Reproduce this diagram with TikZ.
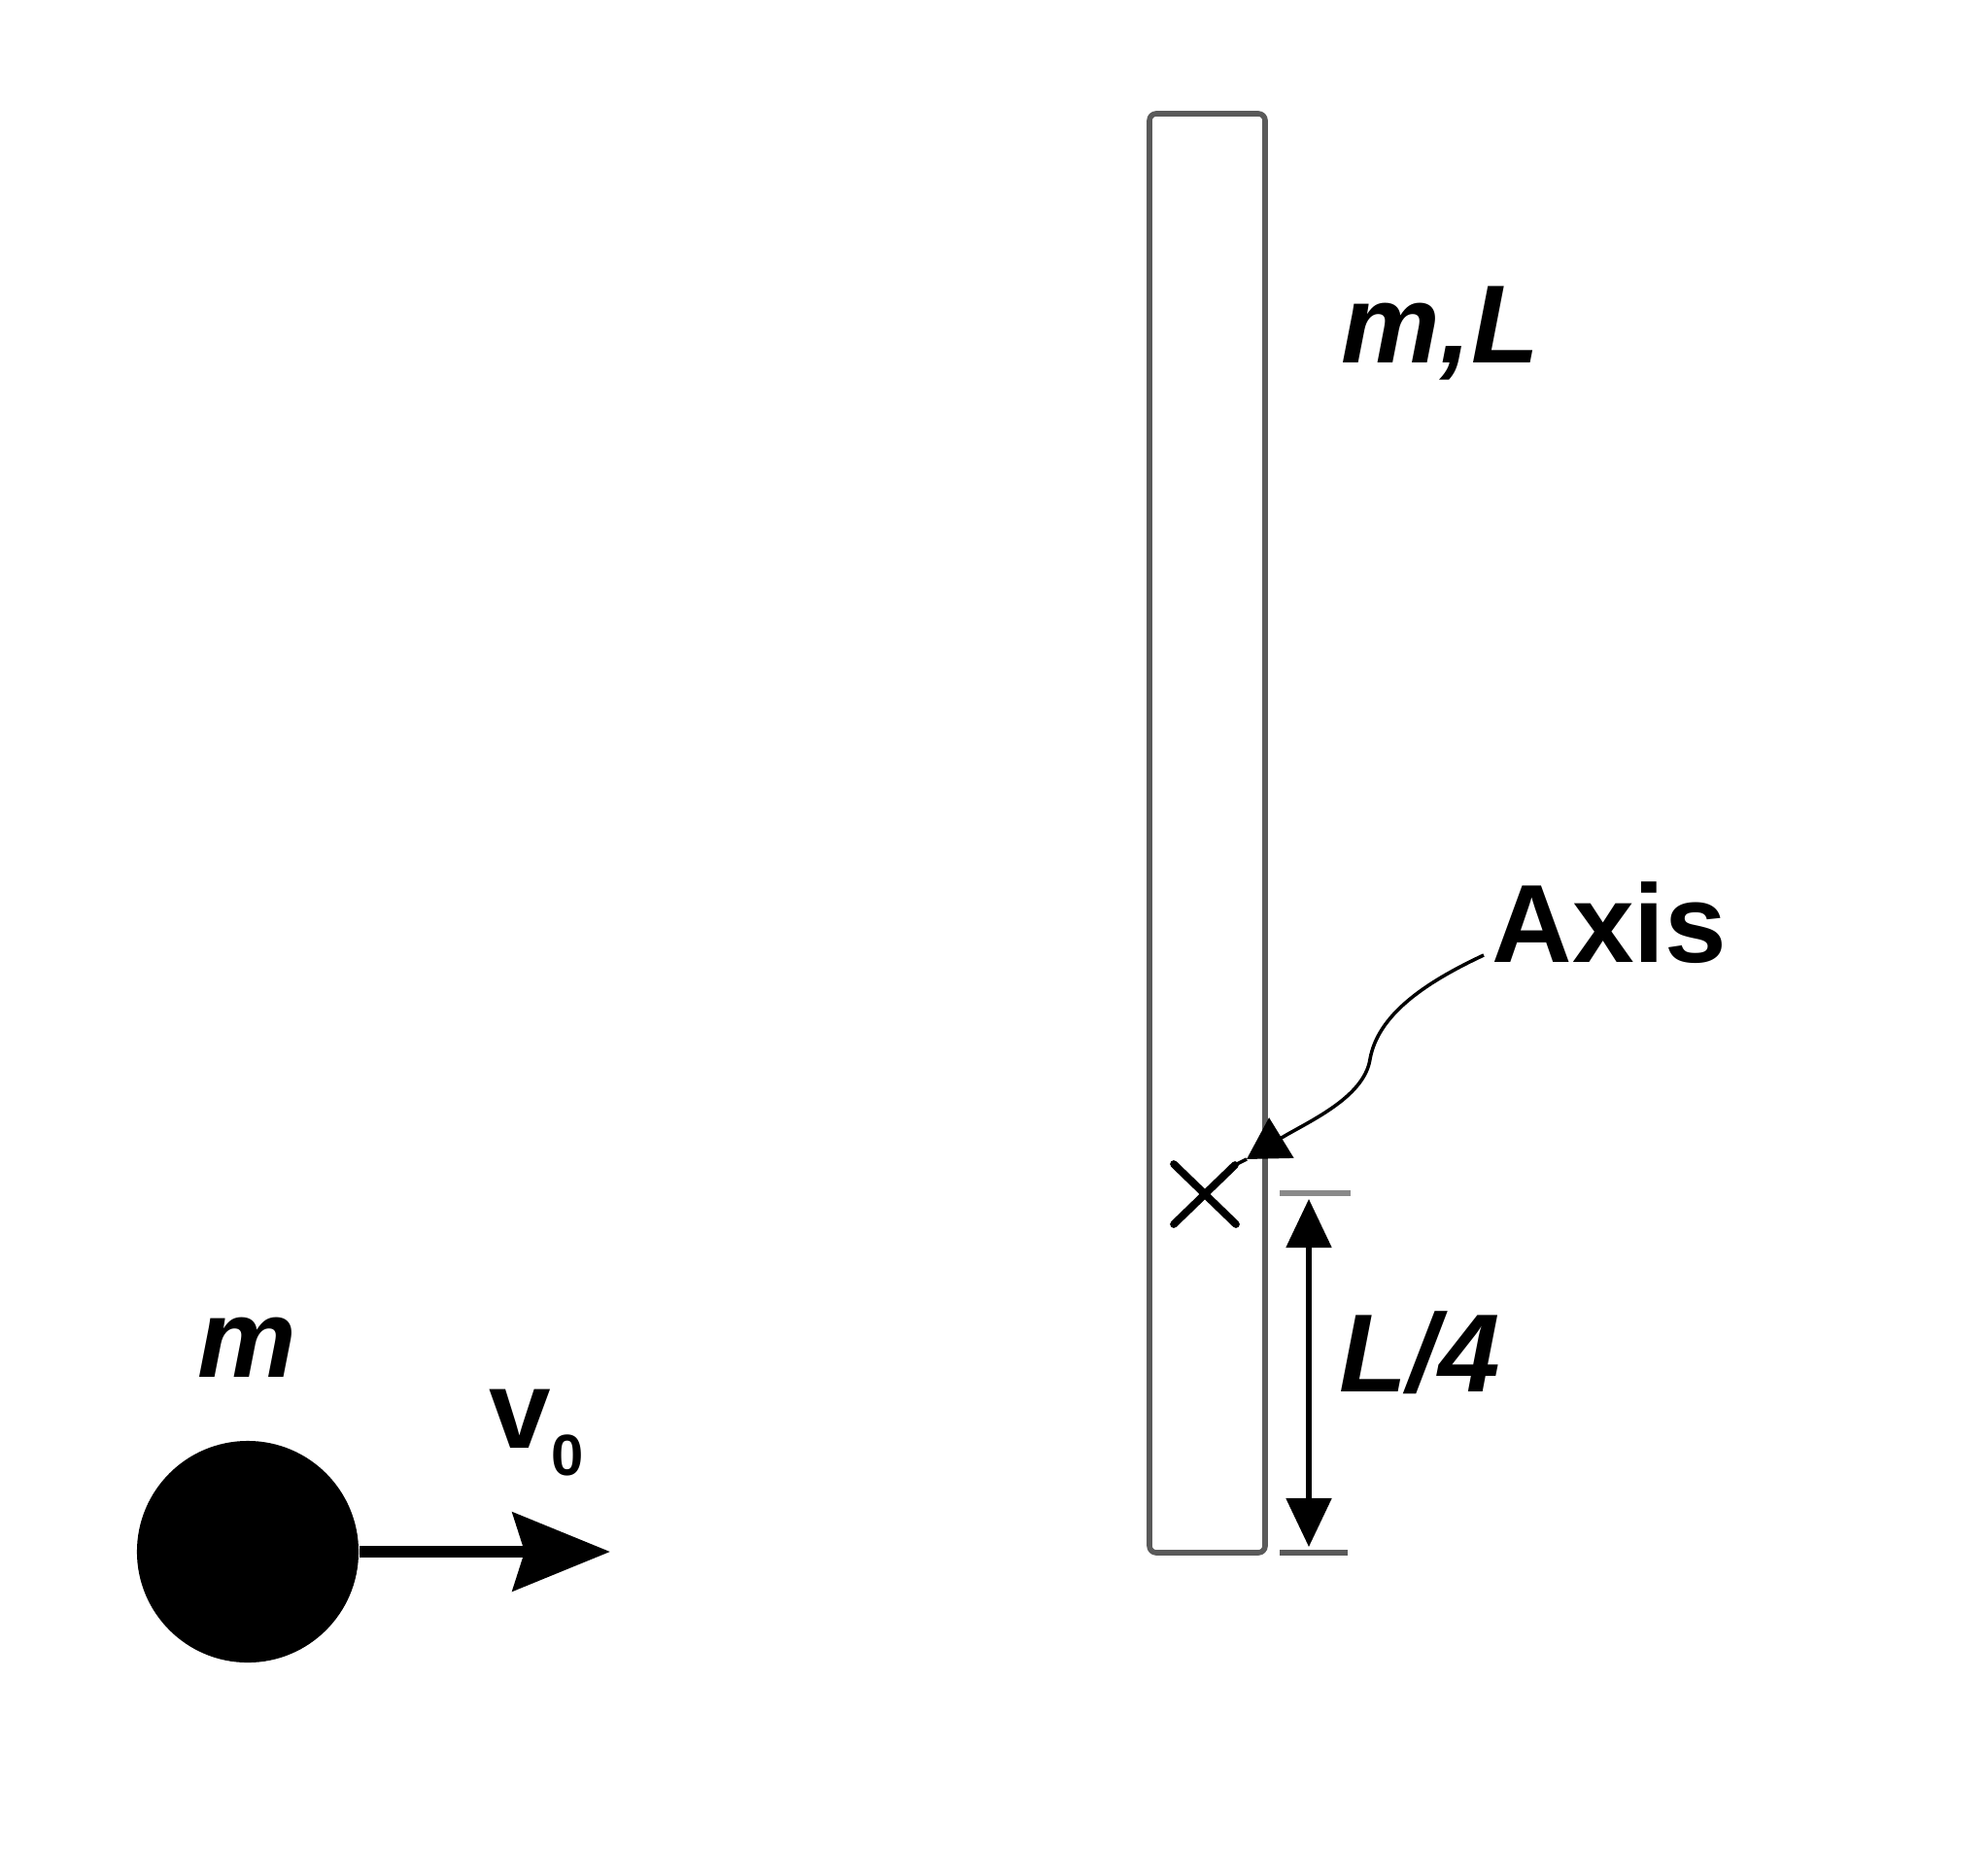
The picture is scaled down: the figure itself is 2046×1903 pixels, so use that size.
\documentclass[tikz,border=0pt]{standalone}
\usepackage{fontspec}
\setmainfont{Liberation Sans}
\usetikzlibrary{arrows.meta}
\definecolor{rodgray}{HTML}{5A5A5A}
\definecolor{ticklight}{HTML}{8A8A8A}
\begin{document}
\begin{tikzpicture}[x=0.01cm,y=-0.01cm,
  lblit/.style={inner sep=0pt, anchor=base west, font=\fontsize{32.5}{36}\selectfont\bfseries\itshape},
  lblup/.style={inner sep=0pt, anchor=base west, font=\fontsize{32.5}{36}\selectfont\bfseries},
  rodline/.style={draw=rodgray, line width=1.6pt, rounded corners=2pt},
  tickline/.style={line width=1.5pt},
  dimarrow/.style={line width=1.5pt, {Triangle[length=0.5cm,width=0.46cm]}-{Triangle[length=0.5cm,width=0.46cm]}},
  velarrow/.style={line width=3.5pt, -{Stealth[length=1.0cm,width=0.8cm,inset=0.12cm]}},
  axisarrow/.style={line width=1.0pt, -{Triangle[length=0.42cm,width=0.48cm]}},
  crossline/.style={line width=2.2pt, line cap=round}]
\useasboundingbox (0,0) rectangle (2046,1903);

% rod
\draw[rodline] (1183,117) rectangle (1302,1598);
\node[lblit] (mL) at (1380,373) {m,L};

% ball and velocity
\node[circle, fill=black, inner sep=0pt, minimum size=2.28cm] (ball) at (255,1597) {};
\coordinate (vtip) at (628,1597);
\draw[velarrow] (ball.east) -- (vtip);
\node[lblit] (mball) at (203,1417) {m};
\node[lblup] (v0) at (503,1490) {v\raisebox{-8pt}{\fontsize{17}{20}\selectfont 0}};

% pivot cross
\coordinate (pivot) at (1240,1229);
\coordinate (xul) at (1208,1198);
\coordinate (xlr) at (1272,1260);
\coordinate (xll) at (1208,1260);
\coordinate (xur) at (1271,1199);
\draw[crossline] (xul) -- (xlr);
\draw[crossline] (xll) -- (xur);

% axis label and curved pointer
\node[lblup] (axis) at (1535,990) {Axis};
\coordinate (c0) at (1527,983);
\coordinate (cmid) at (1410,1090);
\coordinate (ctip) at (1283,1193);
\draw[axisarrow] (c0) .. controls (1465,1012) and (1418,1045) .. (cmid)
  .. controls (1404,1130) and (1345,1155) .. (ctip);
\draw[line width=1.0pt] (xur) -- (ctip);

% dimension L/4
\coordinate (t1a) at (1317,1228);
\coordinate (t1b) at (1390,1228);
\coordinate (t2a) at (1317,1598);
\coordinate (t2b) at (1387,1598);
\draw[tickline, draw=ticklight] (t1a) -- (t1b);
\draw[tickline, draw=rodgray] (t2a) -- (t2b);
\coordinate (dtop) at (1347,1234);
\coordinate (dbot) at (1347,1592);
\draw[dimarrow] (dtop) -- (dbot);
\node[lblit] (L4) at (1378,1432) {L/4};
\end{tikzpicture}
\end{document}
